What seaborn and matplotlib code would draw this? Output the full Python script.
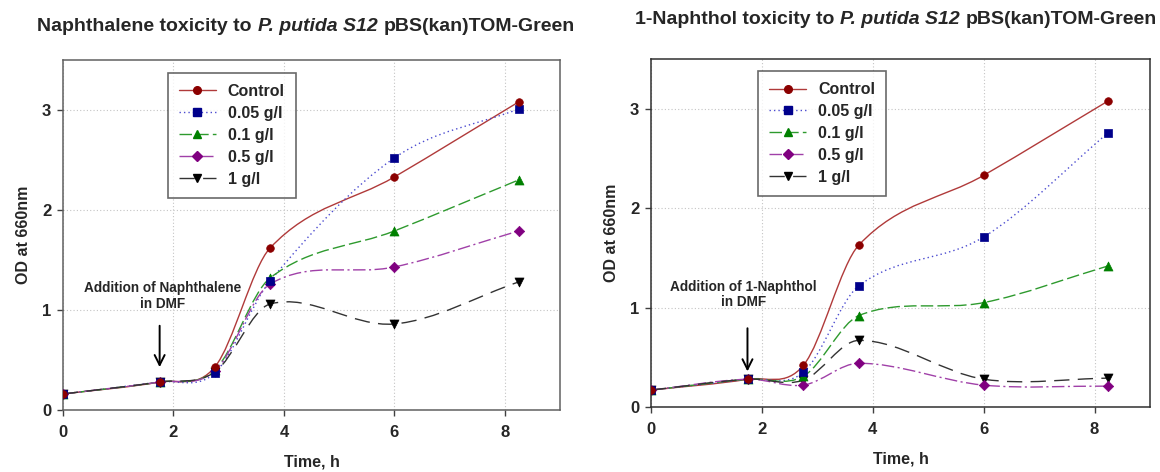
import numpy as np
import pandas as pd
import matplotlib
matplotlib.use("Agg")
import matplotlib.pyplot as plt
import seaborn as sns
from matplotlib.path import Path
from matplotlib.patches import PathPatch
from matplotlib.lines import Line2D
from matplotlib.offsetbox import TextArea, HPacker, AnchoredOffsetbox

# ---------------- data ----------------
times = [0, 1.75, 2.75, 3.75, 6, 8.25]
series_names = ["Control", "0.05 g/l", "0.1 g/l", "0.5 g/l", "1 g/l"]

naph_control = [0.16, 0.28, 0.43, 1.62, 2.33, 3.08]
naph_005 = [0.16, 0.28, 0.37, 1.29, 2.52, 3.01]
naph_01 = [0.16, 0.28, 0.40, 1.32, 1.79, 2.30]
naph_05 = [0.16, 0.28, 0.39, 1.26, 1.43, 1.79]
naph_1 = [0.16, 0.28, 0.38, 1.06, 0.86, 1.28]

nol_control = [0.17, 0.28, 0.42, 1.63, 2.33, 3.08]
nol_005 = [0.17, 0.28, 0.35, 1.22, 1.71, 2.76]
nol_01 = [0.17, 0.28, 0.31, 0.92, 1.05, 1.42]
nol_05 = [0.17, 0.28, 0.22, 0.44, 0.22, 0.21]
nol_1 = [0.17, 0.28, 0.27, 0.67, 0.28, 0.29]

x_ticks = [0, 2, 4, 6, 8]
y_ticks = [0, 1, 2, 3]

# ---------------- styles ----------------
FONT = "Liberation Sans"
sns.set_style("ticks")
plt.rcParams["font.family"] = [FONT, "DejaVu Sans"]

line_colors = ["#b03a3a", "#4b4bd0", "#2e9a2e", "#a040a8", "#333333"]
marker_colors = ["#8b0000", "#00008b", "#008000", "#800080", "#000000"]
markers = ["o", "s", "^", "D", "v"]
msizes = [30, 30, 42, 28, 42]
dashes = ["-", (0, (1, 2.2)), (0, (9, 3)), (0, (9, 2.5, 1.5, 2.5)), (0, (11, 6))]


def smooth_path(x, y):
    """Smooth cubic Hermite curve through the points, rendered as Bezier segments."""
    x = np.asarray(x, float)
    y = np.asarray(y, float)
    n = len(x)
    m = np.zeros(n)
    m[0] = (y[1] - y[0]) / (x[1] - x[0])
    m[-1] = (y[-1] - y[-2]) / (x[-1] - x[-2])
    for i in range(1, n - 1):
        m[i] = (y[i + 1] - y[i - 1]) / (x[i + 1] - x[i - 1])
    verts = [(x[0], y[0])]
    codes = [Path.MOVETO]
    for i in range(n - 1):
        d = (x[i + 1] - x[i]) / 3
        verts += [(x[i] + d, y[i] + d * m[i]),
                  (x[i + 1] - d, y[i + 1] - d * m[i + 1]),
                  (x[i + 1], y[i + 1])]
        codes += [Path.CURVE4] * 3
    return Path(verts, codes)


fig = plt.figure(figsize=(11.6, 4.72), dpi=100)
ax1 = fig.add_axes([0.0543, 0.1314, 0.4285, 0.7416])
ax2 = fig.add_axes([0.5612, 0.1377, 0.4302, 0.7373])

panels = [
    (ax1, [naph_control, naph_005, naph_01, naph_05, naph_1],
     "Addition of Naphthalene\nin DMF", (1.81, 1.14), (1.75, 0.87), (1.75, 0.40),
     (0.211, 0.963), "#606060"),
    (ax2, [nol_control, nol_005, nol_01, nol_05, nol_1],
     "Addition of 1-Naphthol\nin DMF", (1.67, 1.13), (1.74, 0.82), (1.74, 0.33),
     (0.2144, 0.9655), "#303030"),
]

for ax, data, note, note_xy, arr_from, arr_to, leg_anchor, spine_col in panels:
    frames = []
    for name, vals in zip(series_names, data):
        frames.append(pd.DataFrame({"Time": times, "OD": vals, "Series": name}))
    df = pd.concat(frames, ignore_index=True)
    handles = []
    for k, name in enumerate(series_names):
        sub = df[df["Series"] == name]
        patch = PathPatch(smooth_path(sub["Time"], sub["OD"]), fill=False,
                          edgecolor=line_colors[k], lw=1.0, linestyle=dashes[k],
                          zorder=2)
        ax.add_patch(patch)
    for k in range(len(series_names) - 1, -1, -1):
        name = series_names[k]
        sub = df[df["Series"] == name]
        sns.scatterplot(data=sub, x="Time", y="OD", marker=markers[k],
                        color=marker_colors[k], s=msizes[k], edgecolor=marker_colors[k],
                        linewidth=0.5, ax=ax, zorder=3, legend=False)
    for k, name in enumerate(series_names):
        handles.append(Line2D([], [], color=line_colors[k], lw=1.0, linestyle=dashes[k],
                              marker=markers[k], markersize=5.5,
                              markerfacecolor=marker_colors[k],
                              markeredgecolor=marker_colors[k], label=name))

    ax.set_xlim(0, 9)
    ax.set_ylim(0, 3.5)
    ax.set_xticks(x_ticks)
    ax.set_yticks(y_ticks)
    ax.set_xticklabels([str(t) for t in x_ticks], fontsize=12, fontweight="bold")
    ax.set_yticklabels([str(t) for t in y_ticks], fontsize=12, fontweight="bold")
    ax.tick_params(direction="out", length=4.5, width=1, color="#404040")
    ax.tick_params(axis="x", pad=6)
    ax.tick_params(axis="y", pad=4)
    ax.grid(True, linestyle=(0, (1, 2)), color="#c4c4c4", lw=0.8)
    ax.set_axisbelow(True)
    for s in ax.spines.values():
        s.set_color(spine_col)
        s.set_linewidth(1.1)
    ax.set_xlabel("Time, h", fontsize=11.5, fontweight="bold", labelpad=11)
    ax.set_ylabel("OD at 660nm", fontsize=11.5, fontweight="bold", labelpad=8)

    leg = ax.legend(handles=handles, loc="upper left", bbox_to_anchor=leg_anchor,
                    borderaxespad=0, frameon=True, fancybox=False, handlelength=2.3,
                    handletextpad=0.75, borderpad=0.7, labelspacing=0.43,
                    prop={"family": FONT, "weight": "bold", "size": 11.5})
    leg.get_frame().set_edgecolor("#444444")
    leg.get_frame().set_linewidth(1.2)

    ax.text(note_xy[0], note_xy[1], note, ha="center", va="center", fontsize=9.8,
            fontweight="bold", linespacing=1.15, zorder=5)
    ax.annotate("", xy=arr_to, xytext=arr_from,
                arrowprops=dict(arrowstyle="->", color="black", lw=1.4,
                                mutation_scale=18), zorder=5)


def make_title(parts, center):
    boxes = []
    for text, style in parts:
        boxes.append(TextArea(text, textprops=dict(fontsize=14, fontweight="bold",
                                                   fontstyle=style, family=FONT)))
    pack = HPacker(children=boxes, align="baseline", pad=0, sep=4.5)
    ab = AnchoredOffsetbox(loc="center", child=pack, pad=0, frameon=False,
                           bbox_to_anchor=center, bbox_transform=fig.transFigure,
                           borderpad=0)
    fig.add_artist(ab)


make_title([("Naphthalene toxicity to", "normal"), ("P. putida S12", "italic"),
            ("pBS(kan)TOM-Green", "normal")], (0.264, 0.943))
make_title([("1-Naphthol toxicity to", "normal"), ("P. putida S12", "italic"),
            ("pBS(kan)TOM-Green", "normal")], (0.7724, 0.958))

fig.savefig("out.png", dpi=100)
